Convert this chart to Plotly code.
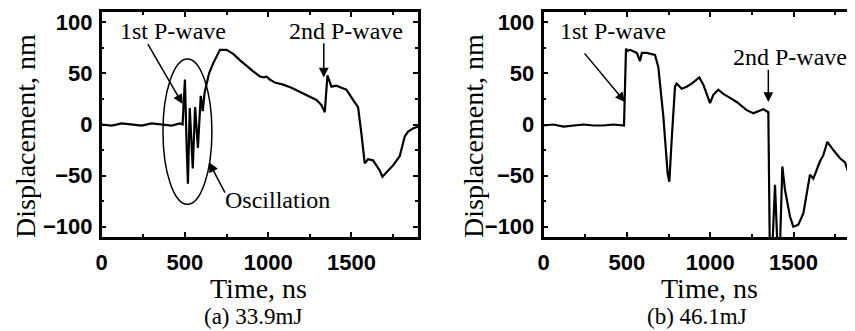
import plotly.graph_objects as go

# ---------------- data ----------------
t_a = [0, 60, 120, 180, 240, 300, 360, 420, 470, 486, 492, 500, 510, 518, 529, 547, 561, 578, 595,
       607, 618, 630, 645, 670, 690, 710, 730, 750, 770, 790, 830, 870, 910, 950, 975, 990, 1010,
       1040, 1090, 1140, 1190, 1240, 1290, 1320, 1340, 1348, 1356, 1380, 1410, 1440, 1470, 1510,
       1540, 1560, 1580, 1600, 1630, 1650, 1670, 1686, 1710, 1750, 1790, 1820, 1840, 1870, 1900]
disp_a = [0, -1, 1, 0, -1, 1, 0, -1, 1, 0, 20, 44, -20, -58, 16, -43, 17, -23, 28,
          13, 31, 40, 50, 60, 67, 73, 73, 73, 71, 69, 63, 57, 52, 47, 46, 47, 44,
          41, 39, 36, 32, 28, 24, 19, 12, 30, 48, 37, 38, 36, 34, 24,
          17, -9, -38, -34, -35, -40, -45, -51, -47, -40, -31, -12, -7, -4, -2]

t_b = [0, 60, 120, 180, 240, 300, 360, 420, 483, 495, 505, 519, 560, 579, 590, 619, 669, 689,
       719, 745, 755, 769, 789, 799, 829, 859, 889, 935, 959, 999, 1019, 1049, 1079, 1119, 1159,
       1219, 1259, 1319, 1339, 1349, 1358, 1372, 1389, 1405, 1418, 1433, 1449, 1479, 1499, 1529,
       1559, 1599, 1619, 1659, 1679, 1703, 1739, 1779, 1809, 1839, 1859, 1868]
disp_b = [-1, 0, -2, -1, 0, -1, -1, 0, -1, 74, 72, 73, 70, 62, 70, 70, 68, 56,
          8, -48, -56, -15, 37, 40, 35, 37, 40, 46, 39, 21, 29, 34, 30, 26, 22,
          14, 11, 15, 13, 12, -125, -125, -59, -125, -125, -41, -64, -90, -100, -98,
          -87, -49, -53, -36, -30, -17, -25, -33, -37, -52, -61, -55]

x_ticks = [0, 500, 1000, 1500]
y_ticks = [-100, -50, 0, 50, 100]
y_title = "Displacement, nm"
x_title = "Time, ns"
captions = ["(a) 33.9mJ", "(b) 46.1mJ"]

# ---------------- layout geometry ----------------
# the page body has an 8px margin, so the figure is drawn 8px in from the window corner
O = 8
W, H = 855 - O, 331 - O
M_T, M_B = 12 - O, 94
PH = H - M_T - M_B


def px(xp):
    return (xp - O) / W


def py(yp):
    return (H - M_B - (yp - O)) / PH


SERIF = "Liberation Serif, Times New Roman, serif"
SANS = "Liberation Sans, Arial, sans-serif"

fig = go.Figure()
fig.add_trace(go.Scatter(x=t_a, y=disp_a, mode="lines", line=dict(color="black", width=2.2),
                         xaxis="x", yaxis="y", showlegend=False))
fig.add_trace(go.Scatter(x=t_b, y=disp_b, mode="lines", line=dict(color="black", width=2.2),
                         xaxis="x2", yaxis="y2", showlegend=False))

common_x = dict(tickvals=x_ticks, ticks="inside", ticklen=5, tickwidth=1.5, tickcolor="black",
                showline=True, linecolor="black", linewidth=2.5, showgrid=False, zeroline=False,
                automargin=False, ticklabelstandoff=4,
                tickfont=dict(family=SANS, size=22, color="black", weight="bold"),
                minor=dict(dtick=250, tick0=0, ticks="inside", ticklen=3, tickcolor="black", showgrid=False))
common_y = dict(tickvals=y_ticks, ticks="inside", ticklen=5, tickwidth=1.5, tickcolor="black",
                showline=True, linecolor="black", linewidth=2.5, showgrid=False, zeroline=False,
                range=[-110, 110], automargin=False, ticklabelstandoff=2,
                tickfont=dict(family=SANS, size=22, color="black", weight="bold"),
                minor=dict(dtick=25, tick0=0, ticks="inside", ticklen=3, tickcolor="black", showgrid=False))

fig.update_layout(
    template="none",
    width=W, height=H,
    margin=dict(l=0, r=0, t=M_T, b=M_B, autoexpand=False),
    paper_bgcolor="white", plot_bgcolor="white",
    xaxis=dict(domain=[px(101.7), px(418)], range=[0, 1900], mirror="ticks", anchor="y", **common_x),
    yaxis=dict(domain=[0, 1], mirror="ticks", anchor="x", **common_y),
    xaxis2=dict(domain=[px(543.5), 1.0], range=[0, 1869], mirror="ticks", anchor="y2", **common_x),
    yaxis2=dict(domain=[0, 1], mirror=False, anchor="x2", **common_y),
)

ann = []
# axis titles and captions
for xc, cap_x, ytx, cap in [(258, 253, 25, captions[0]), (709, 697, 473, captions[1])]:
    ann.append(dict(text=x_title, x=px(xc), y=py(288), xref="paper", yref="paper",
                    showarrow=False, font=dict(family=SERIF, size=28, color="black"),
                    xanchor="center", yanchor="middle"))
    ann.append(dict(text=cap, x=px(cap_x), y=py(316.5), xref="paper", yref="paper",
                    showarrow=False, font=dict(family=SERIF, size=23, color="black"),
                    xanchor="center", yanchor="middle", borderpad=0))
    ann.append(dict(text=y_title, x=px(ytx), y=py(136), xref="paper", yref="paper",
                    showarrow=False, textangle=-90, font=dict(family=SERIF, size=28, color="black"),
                    xanchor="center", yanchor="middle"))

lab_font = dict(family=SERIF, size=24, color="black")
# panel (a) labels
ann.append(dict(text="1st P-wave", x=428, y=91, xref="x", yref="y", showarrow=False, font=lab_font))
ann.append(dict(text="2nd P-wave", x=1466, y=91, xref="x", yref="y", showarrow=False, font=lab_font))
ann.append(dict(text="Oscillation", x=1058, y=-74, xref="x", yref="y", showarrow=False, font=lab_font))
# panel (b) labels
ann.append(dict(text="1st P-wave", x=417, y=91, xref="x2", yref="y2", showarrow=False, font=lab_font))
ann.append(dict(text="2nd P-wave", x=1479, y=66, xref="x2", yref="y2", showarrow=False, font=lab_font))

arrow = dict(text="", showarrow=True, arrowhead=2, arrowsize=1.3, arrowwidth=1.5, arrowcolor="black")
ann.append(dict(x=486, y=20, ax=272, ay=80, xref="x", yref="y", axref="x", ayref="y", **arrow))
ann.append(dict(x=1334, y=46, ax=1334, ay=81, xref="x", yref="y", axref="x", ayref="y", **arrow))
ann.append(dict(x=645, y=-37, ax=745, ay=-68, xref="x", yref="y", axref="x", ayref="y", **arrow))
ann.append(dict(x=489, y=22, ax=239, ay=71, xref="x2", yref="y2", axref="x2", ayref="y2", **arrow))
ann.append(dict(x=1349, y=22, ax=1349, ay=55, xref="x2", yref="y2", axref="x2", ayref="y2", **arrow))

fig.update_layout(annotations=ann)

fig.add_shape(type="circle", xref="x", yref="y", x0=368, x1=662, y0=-78, y1=64,
              line=dict(color="black", width=1.5))

fig.write_html("out.html")
